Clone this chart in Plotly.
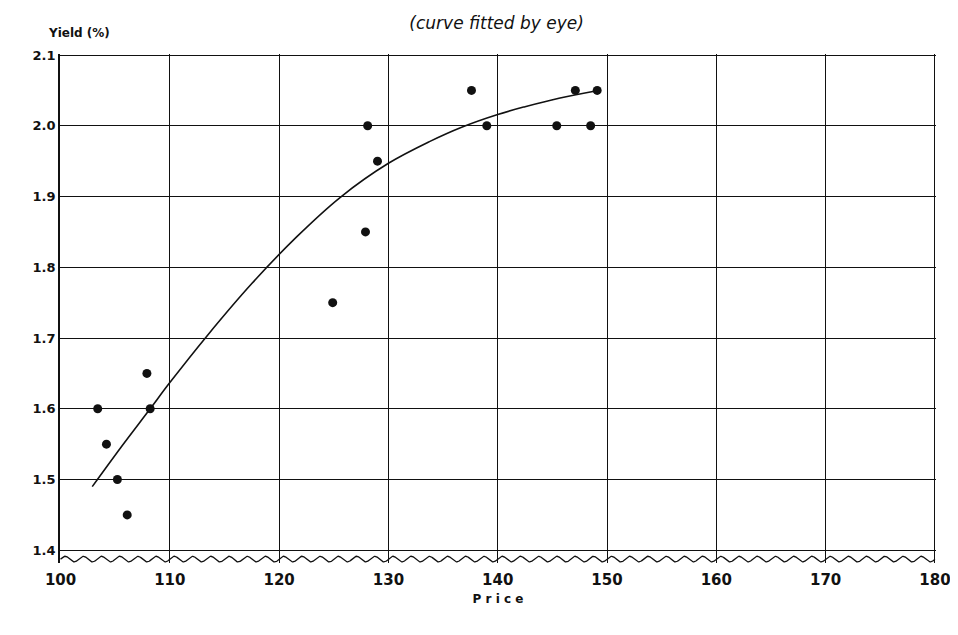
import numpy as np
import plotly.graph_objects as go

# Observed points (price, yield %)
price = [103.4, 104.2, 105.2, 106.1, 107.9, 108.2, 124.9, 127.9, 128.1, 129.0,
         137.6, 139.0, 145.4, 147.1, 148.5, 149.1]
yield_pct = [1.60, 1.55, 1.50, 1.45, 1.65, 1.60, 1.75, 1.85, 2.00, 1.95,
             2.05, 2.00, 2.00, 2.05, 2.00, 2.05]

# Curve fitted by eye
curve_price = [102.9, 105.5, 108.2, 110.0, 113.4, 117.5, 121.6, 125.6, 130.0, 133.8,
               136.7, 140.0, 142.5, 145.6, 149.2]
curve_yield = [1.49, 1.545, 1.60, 1.637, 1.703, 1.777, 1.843, 1.899, 1.947, 1.978,
               1.998, 2.016, 2.027, 2.039, 2.05]

x_ticks = [100, 110, 120, 130, 140, 150, 160, 170, 180]
y_ticks = [1.4, 1.5, 1.6, 1.7, 1.8, 1.9, 2.0, 2.1]

FONT = "DejaVu Sans"
INK = "#111111"

fig = go.Figure()

# wavy axis-break line along the bottom (decoration)
wx = np.linspace(100, 180, 1600)
wy = 1.3875 + 0.004 * np.sin((wx - 100) / 80 * 2 * np.pi * 48)
fig.add_trace(go.Scatter(x=wx, y=wy, mode="lines", line=dict(color=INK, width=1.3),
                         hoverinfo="skip", showlegend=False))

fig.add_trace(go.Scatter(x=curve_price, y=curve_yield, mode="lines",
                         line=dict(color=INK, width=1.6, shape="spline", smoothing=1.0),
                         showlegend=False))
fig.add_trace(go.Scatter(x=price, y=yield_pct, mode="markers",
                         marker=dict(color=INK, size=9), showlegend=False))

fig.update_layout(
    width=958, height=635,
    paper_bgcolor="white", plot_bgcolor="white",
    margin=dict(l=52, r=30, t=46, b=80),
    font=dict(family=FONT, color=INK),
    title=dict(text="<i>(curve fitted by eye)</i>", x=0.51, xanchor="center",
               y=0.985, yanchor="top", font=dict(size=17, family=FONT, color=INK)),
    xaxis=dict(range=[99.95, 180.1], tickvals=x_ticks,
               ticktext=[f"<b>{v}</b>" for v in x_ticks],
               showgrid=True, gridcolor=INK, gridwidth=1.2, zeroline=False,
               showline=False, ticks="", ticklabelstandoff=6,
               tickfont=dict(size=15, family=FONT, color=INK),
               title=dict(text="<b>P r i c e</b>", font=dict(size=12, family=FONT, color=INK),
                          standoff=6)),
    yaxis=dict(range=[1.382, 2.1015], tickvals=y_ticks,
               ticktext=[f"<b>{v:.1f}</b>" for v in y_ticks],
               showgrid=True, gridcolor=INK, gridwidth=1.2, zeroline=False,
               showline=True, linecolor=INK, linewidth=1.6, ticks="",
               tickfont=dict(size=13, family=FONT, color=INK)),
    annotations=[dict(text="<b>Yield (%)</b>", xref="paper", yref="paper",
                      x=-0.016, y=1.0, xanchor="left", yanchor="bottom", yshift=12,
                      showarrow=False, font=dict(size=12, family=FONT, color=INK))],
)

fig.write_html("out.html")
